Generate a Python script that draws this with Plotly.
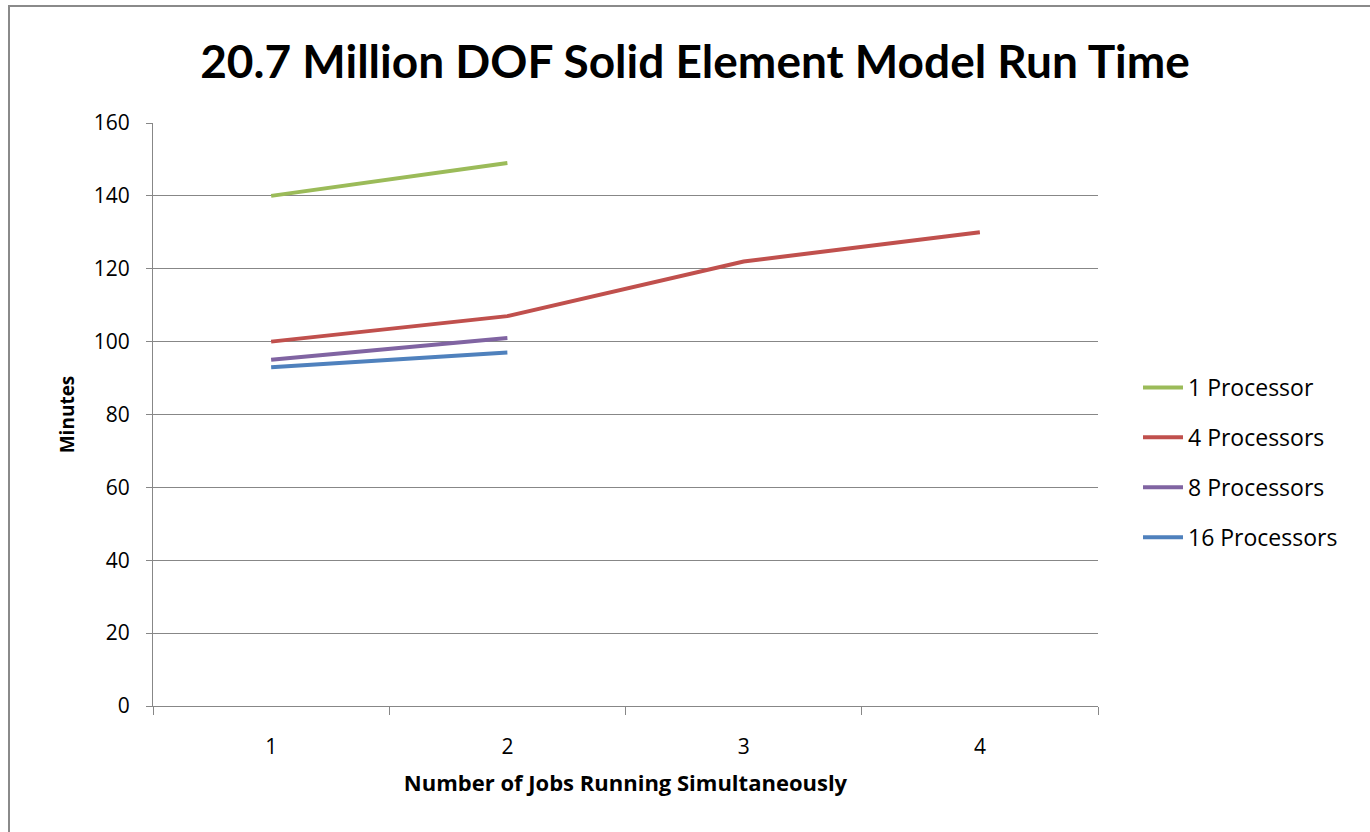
import plotly.graph_objects as go

jobs = [1, 2, 3, 4]
job_labels = ["1", "2", "3", "4"]
series_names = ["1 Processor", "4 Processors", "8 Processors", "16 Processors"]
p1 = [140, 149, None, None]
p4 = [100, 107, 122, 130]
p8 = [95, 101, None, None]
p16 = [93, 97, None, None]
colors = ["#9BBB59", "#C0504D", "#8064A2", "#4F81BD"]
y_ticks = [0, 20, 40, 60, 80, 100, 120, 140, 160]

fig = go.Figure()
for i, (name, vals) in enumerate(zip(series_names, [p1, p4, p8, p16])):
    fig.add_trace(go.Scatter(
        x=jobs, y=vals, mode="lines", name=name,
        line=dict(color=colors[i], width=4),
        legendgroup=str(i), connectgaps=False,
    ))

font_title = "Lato, sans-serif"
font_main = "'Open Sans', sans-serif"
grid = "#878787"

PW, PH = 945, 583  # plot area size in px

fig.update_layout(
    width=1370, height=832,
    paper_bgcolor="white", plot_bgcolor="white",
    margin=dict(l=153, r=272, t=123, b=126, autoexpand=False),
    title=dict(text="<b>20.7 Million DOF Solid Element Model Run Time</b>",
               x=695 / 1370, xref="container", xanchor="center",
               y=1 - 62 / 832, yref="container", yanchor="middle",
               font=dict(family=font_title, size=46, color="black")),
    showlegend=True,
    legend=dict(x=(1138 - 153) / PW, xanchor="left",
                y=(706 - 366) / PH, yanchor="top",
                font=dict(family=font_main, size=23, color="black"),
                tracegroupgap=17, itemwidth=40, bgcolor="rgba(0,0,0,0)"),
    xaxis=dict(range=[0.5, 4.5], tickvals=jobs, ticktext=job_labels,
               showgrid=False, zeroline=False,
               showline=True, linecolor=grid, linewidth=1,
               ticks="", ticklabelstandoff=22,
               tickfont=dict(family=font_main, size=21, color="black"),
               minor=dict(tick0=0.5, dtick=1, ticks="outside", ticklen=8,
                          tickcolor=grid, tickwidth=1, showgrid=False),
               title=dict(text="<b>Number of Jobs Running Simultaneously</b>",
                          font=dict(family=font_main, size=22, color="black"),
                          standoff=16)),
    yaxis=dict(range=[0, 160], tickvals=y_ticks,
               showgrid=True, gridcolor=grid, gridwidth=1,
               zeroline=False, showline=True, linecolor=grid, linewidth=1,
               ticks="outside", ticklen=6, tickcolor=grid,
               ticklabelstandoff=12,
               tickfont=dict(family=font_main, size=21, color="black"),
               title=dict(text="<b>Minutes</b>",
                          font=dict(family=font_main, size=19, color="black"),
                          standoff=14)),
    shapes=[
        dict(type="line", xref="paper", yref="paper",
             x0=(8 - 153) / PW, x1=(1372 - 153) / PW,
             y0=(706 - 6) / PH, y1=(706 - 6) / PH,
             line=dict(color="#8A8A8A", width=2)),
        dict(type="line", xref="paper", yref="paper",
             x0=(9 - 153) / PW, x1=(9 - 153) / PW,
             y0=(706 - 5) / PH, y1=(706 - 834) / PH,
             line=dict(color="#8A8A8A", width=2)),
    ],
)

fig.write_html("out.html")
